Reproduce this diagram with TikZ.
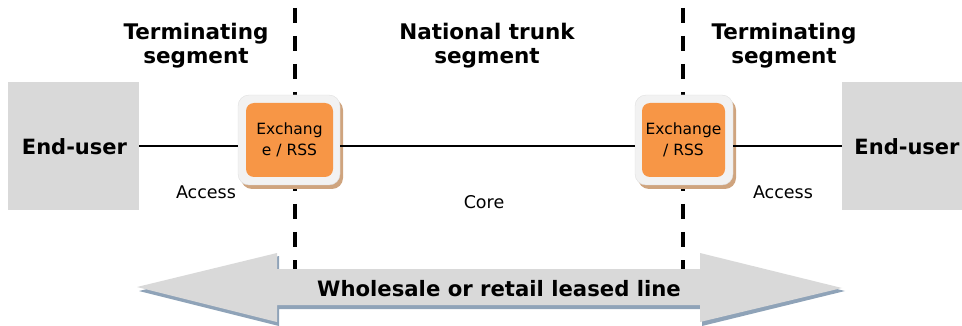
\documentclass[tikz,border=0pt]{standalone}
\usepackage{fontspec}
\setmainfont{DejaVu Sans}
\usetikzlibrary{shadows}
\definecolor{boxgray}{HTML}{D9D9D9}
\definecolor{exorange}{HTML}{F79646}
\definecolor{exframe}{HTML}{F2F2F2}
\definecolor{exshadow}{HTML}{CFA47E}
\definecolor{arrshadow}{HTML}{8FA3B8}
\tikzset{
  enduser/.style={fill=boxgray, draw=none, inner sep=0pt},
  eulabel/.style={font=\fontsize{21}{24}\selectfont\bfseries, inner sep=0pt},
  exframebox/.style={fill=exframe, draw=black!12, rounded corners=11pt, minimum width=102pt, minimum height=90pt, inner sep=0pt,
     drop shadow={shadow xshift=3pt, shadow yshift=-4pt, fill=exshadow, opacity=1}},
  exbox/.style={fill=exorange, draw=none, rounded corners=8pt, minimum width=87pt, minimum height=74pt, inner sep=0pt,
     align=center, font=\fontsize{15.5}{20.5}\selectfont},
  heading/.style={align=center, font=\fontsize{21.5}{24}\selectfont\bfseries, inner sep=0pt},
  plainlbl/.style={font=\fontsize{17.5}{20}\selectfont, inner sep=0pt, anchor=base},
  link/.style={line width=1.5pt, black},
  segline/.style={line width=3.5pt, black, dash pattern=on 15pt off 13pt},
}
\begin{document}
\begin{tikzpicture}[x=1pt, y=-1pt]
\useasboundingbox (0,0) rectangle (962,326);
% dashed segment borders
\coordinate (d1t) at (295,8);
\coordinate (d1b) at (295,270);
\coordinate (d2t) at (683,8);
\coordinate (d2b) at (683,270);
\draw[segline] (d1t) -- (d1b);
\draw[segline] (d2t) -- (d2b);
% end users
\node[enduser, minimum width=131pt, minimum height=128pt] (eu1) at (73.5,146) {};
\node[eulabel] (eu1t) at (74.5,147) {End-user};
\node[enduser, minimum width=125pt, minimum height=128pt] (eu2) at (904.5,146) {};
\node[eulabel] (eu2t) at (907,147) {End-user};
% exchanges
\node[exframebox] (exo1) at (289,140) {};
\node[exbox] (ex1) at (289.5,140) {Exchang\\e / RSS};
\node[exframebox, minimum width=98pt] (exo2) at (684,140) {};
\node[exbox, minimum width=83pt] (ex2) at (683.5,140) {Exchange\\/ RSS};
% links
\draw[link] (eu1.east) -- (eu1.east -| exo1.west);
\draw[link] (eu1.east -| exo1.east) -- (eu1.east -| exo2.west);
\draw[link] (eu1.east -| exo2.east) -- (eu1.east -| eu2.west);
% headings
\node[heading] (h1) at (196,46) {Terminating\\segment};
\node[heading] (h2) at (487,46) {National trunk\\segment};
\node[heading] (h3) at (784,46) {Terminating\\segment};
% labels
\node[plainlbl] (a1) at (206,199) {Access};
\node[plainlbl] (c1) at (484,208) {Core};
\node[plainlbl] (a2) at (783,199) {Access};
% big double arrow
\fill[arrshadow] (139,291) -- (279,256) -- (279,272) -- (702,272) -- (702,256) -- (845,291) -- (702,326) -- (702,309) -- (279,309) -- (279,326) -- cycle;
\fill[boxgray] (137,287) -- (277,253) -- (277,269) -- (700,269) -- (700,253) -- (842,288) -- (700,322) -- (700,305) -- (277,305) -- (277,322) -- cycle;
\node[font=\fontsize{21.2}{24}\selectfont\bfseries, inner sep=0pt, anchor=base] (wl) at (499,296) {Wholesale or retail leased line};
\end{tikzpicture}
\end{document}
